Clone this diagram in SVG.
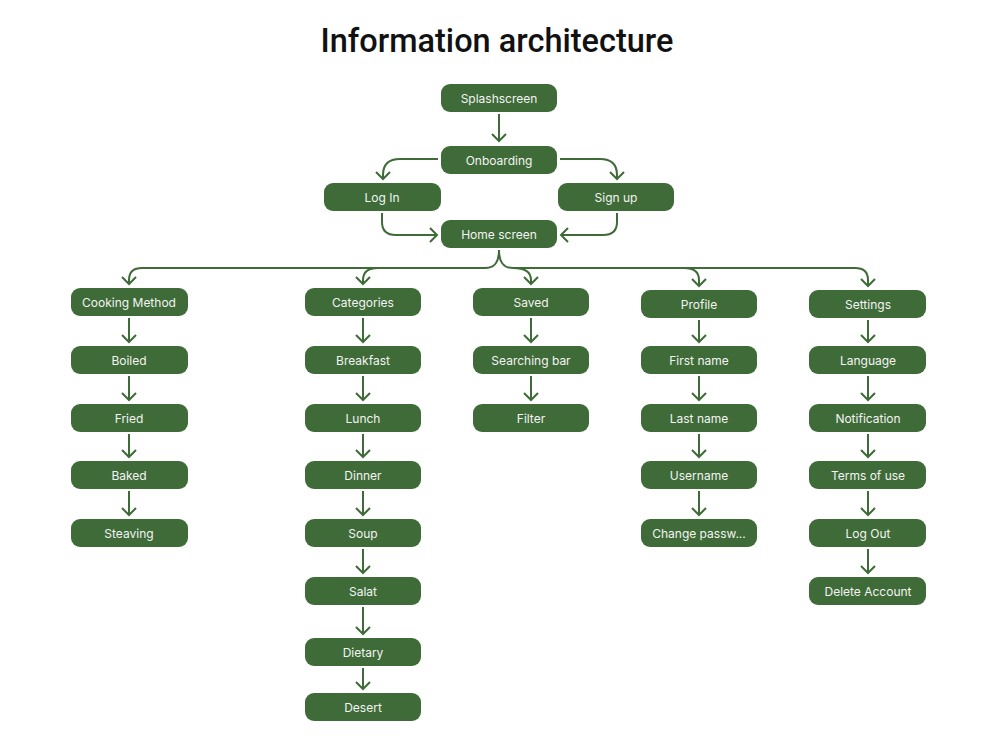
<svg xmlns="http://www.w3.org/2000/svg" width="1000" height="750" viewBox="0 0 1000 750">
<style>
.n rect{fill:#3e6b37;}
.n text{fill:#f4f4f4;font-family:Inter,"Noto Sans",sans-serif;font-size:12px;font-weight:400;text-anchor:middle;dominant-baseline:central;}
.c path{fill:none;stroke:#3e6b37;stroke-width:2;marker-end:url(#ah);}
.title{font-family:Roboto,"Liberation Sans",sans-serif;font-size:32.5px;font-weight:500;fill:#111;text-anchor:middle;}
</style>
<defs>
<marker id="ah" viewBox="-8 -8 10 16" markerWidth="10" markerHeight="16" refX="0" refY="0" orient="auto" markerUnits="userSpaceOnUse">
<path d="M-7,-7 L0,0 L-7,7" fill="none" stroke="#3e6b37" stroke-width="2"/>
</marker>
</defs>
<rect width="1000" height="750" fill="#fff"/>
<text class="title" x="497" y="52">Information architecture</text>

<g class="c" id="connectors">
<path d="M499,114 V141"/>
<path d="M438,159 H400 Q383,159 383,175 V179"/>
<path d="M560,159 H600 Q617,159 617,175 V179"/>
<path d="M382,213 V222 Q382,235 396,235 H437"/>
<path d="M617,213 V222 Q617,235 603,235 H561"/>
<path d="M499,250 C499,262 495,268 485,268 H142 Q129,268 129,280 V284"/>
<path d="M378,268 Q363,268 363,280 V284"/>
<path d="M499,250 C499,262 503,268 513,268 H855 Q868,268 868,280 V286"/>
<path d="M513,268 Q531,268 531,280 V284"/>
<path d="M684,268 Q699,268 699,280 V286"/>
<!-- Cooking column -->
<path d="M129,318 V342"/>
<path d="M129,376 V400"/>
<path d="M129,434 V457"/>
<path d="M129,491 V515"/>
<!-- Categories column -->
<path d="M363,318 V342"/>
<path d="M363,376 V400"/>
<path d="M363,434 V457"/>
<path d="M363,491 V515"/>
<path d="M363,549 V573"/>
<path d="M363,607 V634"/>
<path d="M363,668 V689"/>
<!-- Saved column -->
<path d="M531,318 V342"/>
<path d="M531,376 V400"/>
<!-- Profile column -->
<path d="M699,320 V342"/>
<path d="M699,376 V400"/>
<path d="M699,434 V457"/>
<path d="M699,491 V515"/>
<!-- Settings column -->
<path d="M868,320 V342"/>
<path d="M868,376 V400"/>
<path d="M868,434 V457"/>
<path d="M868,491 V515"/>
<path d="M868,549 V573"/>
</g>

<g class="n" id="splashscreen"><rect x="441" y="84" width="116" height="28" rx="9"/><text x="499" y="98">Splashscreen</text></g>
<g class="n" id="onboarding"><rect x="441" y="146" width="116" height="28" rx="9"/><text x="499" y="160">Onboarding</text></g>
<g class="n" id="login"><rect x="324" y="183" width="117" height="28" rx="9"/><text x="382" y="197">Log In</text></g>
<g class="n" id="signup"><rect x="558" y="183" width="116" height="28" rx="9"/><text x="616" y="197">Sign up</text></g>
<g class="n" id="home"><rect x="441" y="220" width="116" height="28" rx="9"/><text x="499" y="234">Home screen</text></g>

<g class="n" id="cooking"><rect x="71" y="288" width="117" height="28" rx="9"/><text x="129" y="302">Cooking Method</text></g>
<g class="n" id="boiled"><rect x="71" y="346" width="117" height="28" rx="9"/><text x="129" y="360">Boiled</text></g>
<g class="n" id="fried"><rect x="71" y="404" width="117" height="28" rx="9"/><text x="129" y="418">Fried</text></g>
<g class="n" id="baked"><rect x="71" y="461" width="117" height="28" rx="9"/><text x="129" y="475">Baked</text></g>
<g class="n" id="steaving"><rect x="71" y="519" width="117" height="28" rx="9"/><text x="129" y="533">Steaving</text></g>

<g class="n" id="categories"><rect x="305" y="288" width="116" height="28" rx="9"/><text x="363" y="302">Categories</text></g>
<g class="n" id="breakfast"><rect x="305" y="346" width="116" height="28" rx="9"/><text x="363" y="360">Breakfast</text></g>
<g class="n" id="lunch"><rect x="305" y="404" width="116" height="28" rx="9"/><text x="363" y="418">Lunch</text></g>
<g class="n" id="dinner"><rect x="305" y="461" width="116" height="28" rx="9"/><text x="363" y="475">Dinner</text></g>
<g class="n" id="soup"><rect x="305" y="519" width="116" height="28" rx="9"/><text x="363" y="533">Soup</text></g>
<g class="n" id="salat"><rect x="305" y="577" width="116" height="28" rx="9"/><text x="363" y="591">Salat</text></g>
<g class="n" id="dietary"><rect x="305" y="638" width="116" height="28" rx="9"/><text x="363" y="652">Dietary</text></g>
<g class="n" id="desert"><rect x="305" y="693" width="116" height="28" rx="9"/><text x="363" y="707">Desert</text></g>

<g class="n" id="saved"><rect x="473" y="288" width="116" height="28" rx="9"/><text x="531" y="302">Saved</text></g>
<g class="n" id="searching"><rect x="473" y="346" width="116" height="28" rx="9"/><text x="531" y="360">Searching bar</text></g>
<g class="n" id="filter"><rect x="473" y="404" width="116" height="28" rx="9"/><text x="531" y="418">Filter</text></g>

<g class="n" id="profile"><rect x="641" y="290" width="116" height="28" rx="9"/><text x="699" y="304">Profile</text></g>
<g class="n" id="firstname"><rect x="641" y="346" width="116" height="28" rx="9"/><text x="699" y="360">First name</text></g>
<g class="n" id="lastname"><rect x="641" y="404" width="116" height="28" rx="9"/><text x="699" y="418">Last name</text></g>
<g class="n" id="username"><rect x="641" y="461" width="116" height="28" rx="9"/><text x="699" y="475">Username</text></g>
<g class="n" id="changepw"><rect x="641" y="519" width="116" height="28" rx="9"/><text x="699" y="533">Change passw...</text></g>

<g class="n" id="settings"><rect x="809" y="290" width="117" height="28" rx="9"/><text x="868" y="304">Settings</text></g>
<g class="n" id="language"><rect x="809" y="346" width="117" height="28" rx="9"/><text x="868" y="360">Language</text></g>
<g class="n" id="notification"><rect x="809" y="404" width="117" height="28" rx="9"/><text x="868" y="418">Notification</text></g>
<g class="n" id="terms"><rect x="809" y="461" width="117" height="28" rx="9"/><text x="868" y="475">Terms of use</text></g>
<g class="n" id="logout"><rect x="809" y="519" width="117" height="28" rx="9"/><text x="868" y="533">Log Out</text></g>
<g class="n" id="delete"><rect x="809" y="577" width="117" height="28" rx="9"/><text x="868" y="591">Delete Account</text></g>
</svg>
